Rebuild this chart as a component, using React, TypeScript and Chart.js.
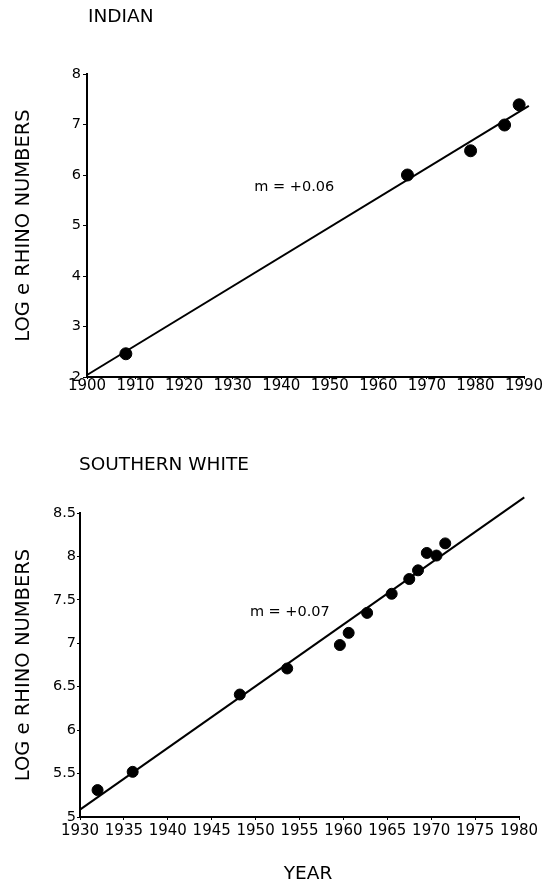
import React, { useEffect, useRef } from "react";
import { Chart, registerables } from "chart.js";

Chart.register(...registerables);

const FONT = "'DejaVu Sans', 'Liberation Sans', Arial, sans-serif";

// ---------- INDIAN ----------
const indianYears = [1908, 1966, 1979, 1986, 1989];
const indianLogNumbers = [2.46, 6.0, 6.48, 6.99, 7.39];
const indianFitYears = [1900, 1991];
const indianFitValues = [2.04, 7.37];
const indianXTicks = [1900, 1910, 1920, 1930, 1940, 1950, 1960, 1970, 1980, 1990];
const indianYTicks = [2, 3, 4, 5, 6, 7, 8];
const indianSlopeText = "m = +0.06";
const indianSlopeYear = 1942.7;
const indianSlopeValue = 5.75;

// ---------- SOUTHERN WHITE ----------
const whiteYears = [1932, 1936, 1948.2, 1953.6, 1959.6, 1960.6, 1962.7, 1965.5, 1967.5, 1968.5, 1969.5, 1970.6, 1971.6];
const whiteLogNumbers = [5.31, 5.52, 6.41, 6.71, 6.98, 7.12, 7.35, 7.57, 7.74, 7.84, 8.04, 8.01, 8.15];
const whiteFitYears = [1930, 1980.6];
const whiteFitValues = [5.085, 8.68];
const whiteXTicks = [1930, 1935, 1940, 1945, 1950, 1955, 1960, 1965, 1970, 1975, 1980];
const whiteYTicks = [5, 5.5, 6, 6.5, 7, 7.5, 8, 8.5];
const whiteSlopeText = "m = +0.07";
const whiteSlopeYear = 1953.9;
const whiteSlopeValue = 7.36;

const Y_TITLE = "LOG e RHINO NUMBERS";

type TextItem = {
  text: string;
  size: number;
  x: number;
  y: number;
  align: CanvasTextAlign;
  data?: boolean;
};

function textPlugin(items: TextItem[]) {
  return {
    id: "panelText",
    afterDraw(chart: any) {
      const ctx = chart.ctx as CanvasRenderingContext2D;
      ctx.save();
      ctx.fillStyle = "#000";
      ctx.textBaseline = "middle";
      for (const t of items) {
        ctx.font = `${t.size}px ${FONT}`;
        ctx.textAlign = t.align;
        let x = t.x;
        let y = t.y;
        if (t.data) {
          x = chart.scales.x.getPixelForValue(t.x);
          y = chart.scales.y.getPixelForValue(t.y);
        }
        ctx.fillText(t.text, x, y);
      }
      ctx.restore();
    },
  };
}

type PanelSpec = {
  width: number;
  height: number;
  years: number[];
  values: number[];
  fitYears: number[];
  fitValues: number[];
  xTicks: number[];
  yTicks: number[];
  pointRadius: number;
  padding: { left: number; top: number; right: number; bottom: number };
  yAxisWidth: number;
  xAxisHeight: number;
  xTickLength: number;
  xTickPadding: number;
  yTickLength: number;
  yTickPadding: number;
  texts: TextItem[];
};

function buildConfig(s: PanelSpec): any {
  const points = s.years.map((x, i) => ({ x, y: s.values[i] }));
  const fit = s.fitYears.map((x, i) => ({ x, y: s.fitValues[i] }));
  const xMin = s.xTicks[0];
  const xMax = s.xTicks[s.xTicks.length - 1];
  const yMin = s.yTicks[0];
  const yMax = s.yTicks[s.yTicks.length - 1];
  return {
    type: "scatter",
    data: {
      datasets: [
        {
          label: "fit",
          data: fit,
          showLine: true,
          borderColor: "#000",
          borderWidth: 2,
          pointRadius: 0,
          clip: false,
          order: 2,
        },
        {
          label: "observed",
          data: points,
          backgroundColor: "#000",
          borderColor: "#000",
          pointRadius: s.pointRadius,
          pointHoverRadius: s.pointRadius,
          clip: false,
          order: 1,
        },
      ],
    },
    options: {
      responsive: false,
      animation: false,
      events: [],
      layout: { padding: s.padding },
      plugins: {
        legend: { display: false },
        tooltip: { enabled: false },
        title: { display: false },
      },
      scales: {
        x: {
          type: "linear",
          min: xMin,
          max: xMax,
          afterBuildTicks: (scale: any) => {
            scale.ticks = s.xTicks.map((v) => ({ value: v }));
          },
          afterFit: (scale: any) => {
            scale.height = s.xAxisHeight;
          },
          border: { display: true, color: "#000", width: 2 },
          grid: {
            display: true,
            drawOnChartArea: false,
            drawTicks: true,
            tickLength: s.xTickLength,
            color: "#000",
            lineWidth: 1,
          },
          ticks: {
            color: "#000",
            padding: s.xTickPadding,
            maxRotation: 0,
            autoSkip: false,
            font: { family: FONT, size: 15, lineHeight: 1 },
            callback: (v: number) => String(v),
          },
        },
        y: {
          type: "linear",
          min: yMin,
          max: yMax,
          afterBuildTicks: (scale: any) => {
            scale.ticks = s.yTicks.map((v) => ({ value: v }));
          },
          afterFit: (scale: any) => {
            scale.width = s.yAxisWidth;
          },
          border: { display: true, color: "#000", width: 2 },
          grid: {
            display: true,
            drawOnChartArea: false,
            drawTicks: true,
            tickLength: s.yTickLength,
            color: "#000",
            lineWidth: 1,
          },
          ticks: {
            color: "#000",
            padding: s.yTickPadding,
            autoSkip: false,
            font: { family: FONT, size: 14.5, lineHeight: 1 },
            callback: (v: number) => String(v),
          },
          title: {
            display: true,
            text: Y_TITLE,
            color: "#000",
            font: { family: FONT, size: 19.5, lineHeight: 1 },
            padding: { top: 14, bottom: 0 },
          },
        },
      },
    },
    plugins: [textPlugin(s.texts)],
  };
}

function Panel({ spec, top }: { spec: PanelSpec; top: number }) {
  const ref = useRef<HTMLCanvasElement | null>(null);
  useEffect(() => {
    if (!ref.current) return;
    const chart = new Chart(ref.current, buildConfig(spec));
    return () => chart.destroy();
  }, [spec]);
  return (
    <canvas
      ref={ref}
      width={spec.width}
      height={spec.height}
      style={{ position: "absolute", left: 0, top, width: spec.width, height: spec.height, display: "block" }}
    />
  );
}

const indianSpec: PanelSpec = {
  width: 544,
  height: 420,
  years: indianYears,
  values: indianLogNumbers,
  fitYears: indianFitYears,
  fitValues: indianFitValues,
  xTicks: indianXTicks,
  yTicks: indianYTicks,
  pointRadius: 6,
  padding: { left: 0, top: 74, right: 20, bottom: 0 },
  yAxisWidth: 87,
  xAxisHeight: 43,
  xTickLength: 2,
  xTickPadding: 0,
  yTickLength: 4,
  yTickPadding: 2,
  texts: [
    { text: "INDIAN", size: 18.5, x: 88, y: 17, align: "left" },
    { text: indianSlopeText, size: 14.5, x: indianSlopeYear, y: indianSlopeValue, align: "center", data: true },
  ],
};

const whiteSpec: PanelSpec = {
  width: 544,
  height: 443,
  years: whiteYears,
  values: whiteLogNumbers,
  fitYears: whiteFitYears,
  fitValues: whiteFitValues,
  xTicks: whiteXTicks,
  yTicks: whiteYTicks,
  pointRadius: 5.5,
  padding: { left: 0, top: 73, right: 25, bottom: 0 },
  yAxisWidth: 80,
  xAxisHeight: 66,
  xTickLength: 3,
  xTickPadding: 4,
  yTickLength: 3,
  yTickPadding: 1,
  texts: [
    { text: "SOUTHERN WHITE", size: 18.5, x: 79, y: 25, align: "left" },
    { text: whiteSlopeText, size: 14.5, x: whiteSlopeYear, y: whiteSlopeValue, align: "center", data: true },
    { text: "YEAR", size: 18.5, x: 308, y: 434, align: "center" },
  ],
};

export default function App() {
  return (
    <div
      style={{
        position: "absolute",
        left: 0,
        top: 0,
        width: 544,
        height: 883,
        background: "#fff",
        overflow: "hidden",
      }}
    >
      <Panel spec={indianSpec} top={0} />
      <Panel spec={whiteSpec} top={440} />
    </div>
  );
}
